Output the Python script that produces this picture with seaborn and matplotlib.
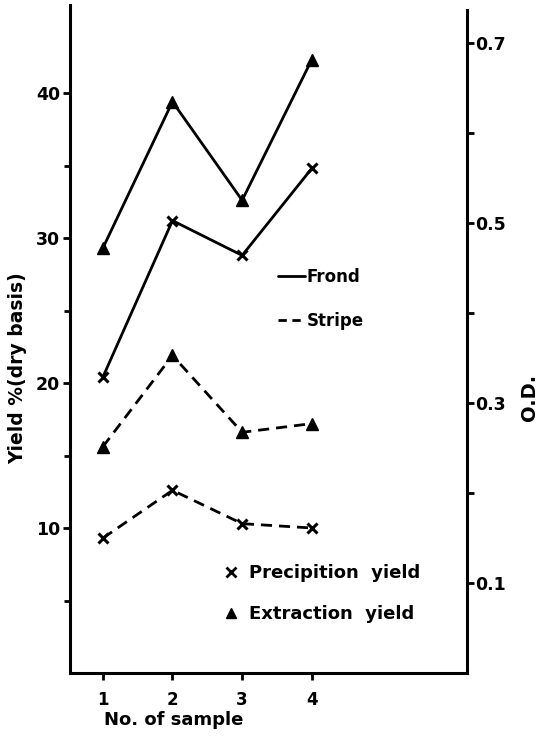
import numpy as np
import pandas as pd
import matplotlib
matplotlib.use("Agg")
import matplotlib.pyplot as plt
from matplotlib.lines import Line2D
import seaborn as sns

samples = [1, 2, 3, 4]
frond_extraction = [29.3, 39.4, 32.6, 42.3]
frond_precipitation = [20.4, 31.2, 28.8, 34.8]
stripe_extraction = [15.6, 21.9, 16.6, 17.2]
stripe_precipitation = [9.3, 12.6, 10.3, 10.0]

left_ticks = [10, 20, 30, 40]
right_ticks = [0.1, 0.3, 0.5, 0.7]
right_labels = ["0.1", "0.3", "0.5", "0.7"]

sns.set_style("ticks")
plt.rcParams["font.family"] = ["DejaVu Sans"]
plt.rcParams["font.weight"] = "bold"
for k in ["text.color", "axes.labelcolor", "xtick.color", "ytick.color", "axes.edgecolor"]:
    plt.rcParams[k] = "black"

fig = plt.figure(figsize=(5.48, 7.37), dpi=100)
ax = fig.add_axes([70/548, 1-673/737, (467-70)/548, (673-5)/737])

series = [
    (frond_extraction, "^", "-"),
    (frond_precipitation, "x", "-"),
    (stripe_extraction, "^", "--"),
    (stripe_precipitation, "x", "--"),
]
for vals, mk, ls in series:
    df = pd.DataFrame({"sample": samples, "yield": vals})
    sns.lineplot(data=df, x="sample", y="yield", ax=ax, color="black",
                 marker=mk, linestyle=ls, linewidth=2.0,
                 markersize=8 if mk == "^" else 7,
                 markeredgewidth=2.2 if mk == "x" else 1,
                 markeredgecolor="black", markerfacecolor="black")
    if ls == "--":
        ax.lines[-1].set_dashes([4, 2.5])

ax.set_xlim(1 - 33/70, 4 + 156/70)
ax.set_ylim(0, (673-5)/14.5)
ax.set_xticks(samples)
ax.set_xticklabels([str(s) for s in samples], fontsize=12, fontweight="bold")
ax.set_yticks(left_ticks)
ax.set_yticks([5, 15, 25, 35], minor=True)
ax.set_yticklabels([str(t) for t in left_ticks], fontsize=12.5, fontweight="bold")
ax.tick_params(axis="both", which="both", direction="out", width=2, color="black")
ax.tick_params(axis="x", which="major", length=5, pad=8)
ax.tick_params(axis="y", which="major", length=5, pad=2)
ax.tick_params(axis="y", which="minor", length=4)
ax.set_xlabel("")
ax.set_ylabel("")
for s in ["top", "right"]:
    ax.spines[s].set_visible(False)
for s in ["left", "bottom"]:
    ax.spines[s].set_linewidth(2.2)
    ax.spines[s].set_color("black")

ax2 = ax.twinx()
ax2.set_ylim(0, (673-5)/900)
ax2.set_yticks(right_ticks)
ax2.set_yticks([0.2, 0.4, 0.6], minor=True)
ax2.set_yticklabels(right_labels, fontsize=12.5, fontweight="bold")
ax2.tick_params(axis="y", which="both", direction="out", width=2, color="black", length=5, pad=1)
for s in ["top", "left", "bottom"]:
    ax2.spines[s].set_visible(False)
ax2.spines["right"].set_linewidth(2.2)
ax2.spines["right"].set_color("black")
ax2.spines["right"].set_bounds(0, (673-10)/900)

fig.text(18/548, 1-368/737, "Yield %(dry basis)", rotation=90, ha="center", va="center",
         fontsize=13.5, fontweight="bold")
fig.text(529/548, 1-397/737, "O.D.", rotation=90, ha="center", va="center",
         fontsize=14, fontweight="bold")
fig.text(104/548, 1-720/737, "No. of sample", ha="left", va="center",
         fontsize=13, fontweight="bold")

h1 = [Line2D([], [], color="black", linestyle="-", linewidth=2),
      Line2D([], [], color="black", linestyle="--", linewidth=2, dashes=[3, 2])]
leg1 = fig.legend(h1, ["Frond", "Stripe"], loc="upper left",
                  bbox_to_anchor=(263/548, 1-253/737), frameon=False,
                  handlelength=1.6, handletextpad=0.1, labelspacing=1.55,
                  prop={"size": 12, "weight": "bold"})
h2 = [Line2D([], [], color="black", linestyle="none", marker="x", markersize=7, markeredgewidth=2),
      Line2D([], [], color="black", linestyle="none", marker="^", markersize=7)]
leg2 = fig.legend(h2, ["Precipition  yield", "Extraction  yield"], loc="upper left",
                  bbox_to_anchor=(206/548, 1-548/737), frameon=False,
                  handlelength=1.0, handletextpad=0.5, labelspacing=1.25,
                  prop={"size": 13, "weight": "bold"})

fig.savefig("out.png", dpi=100)
